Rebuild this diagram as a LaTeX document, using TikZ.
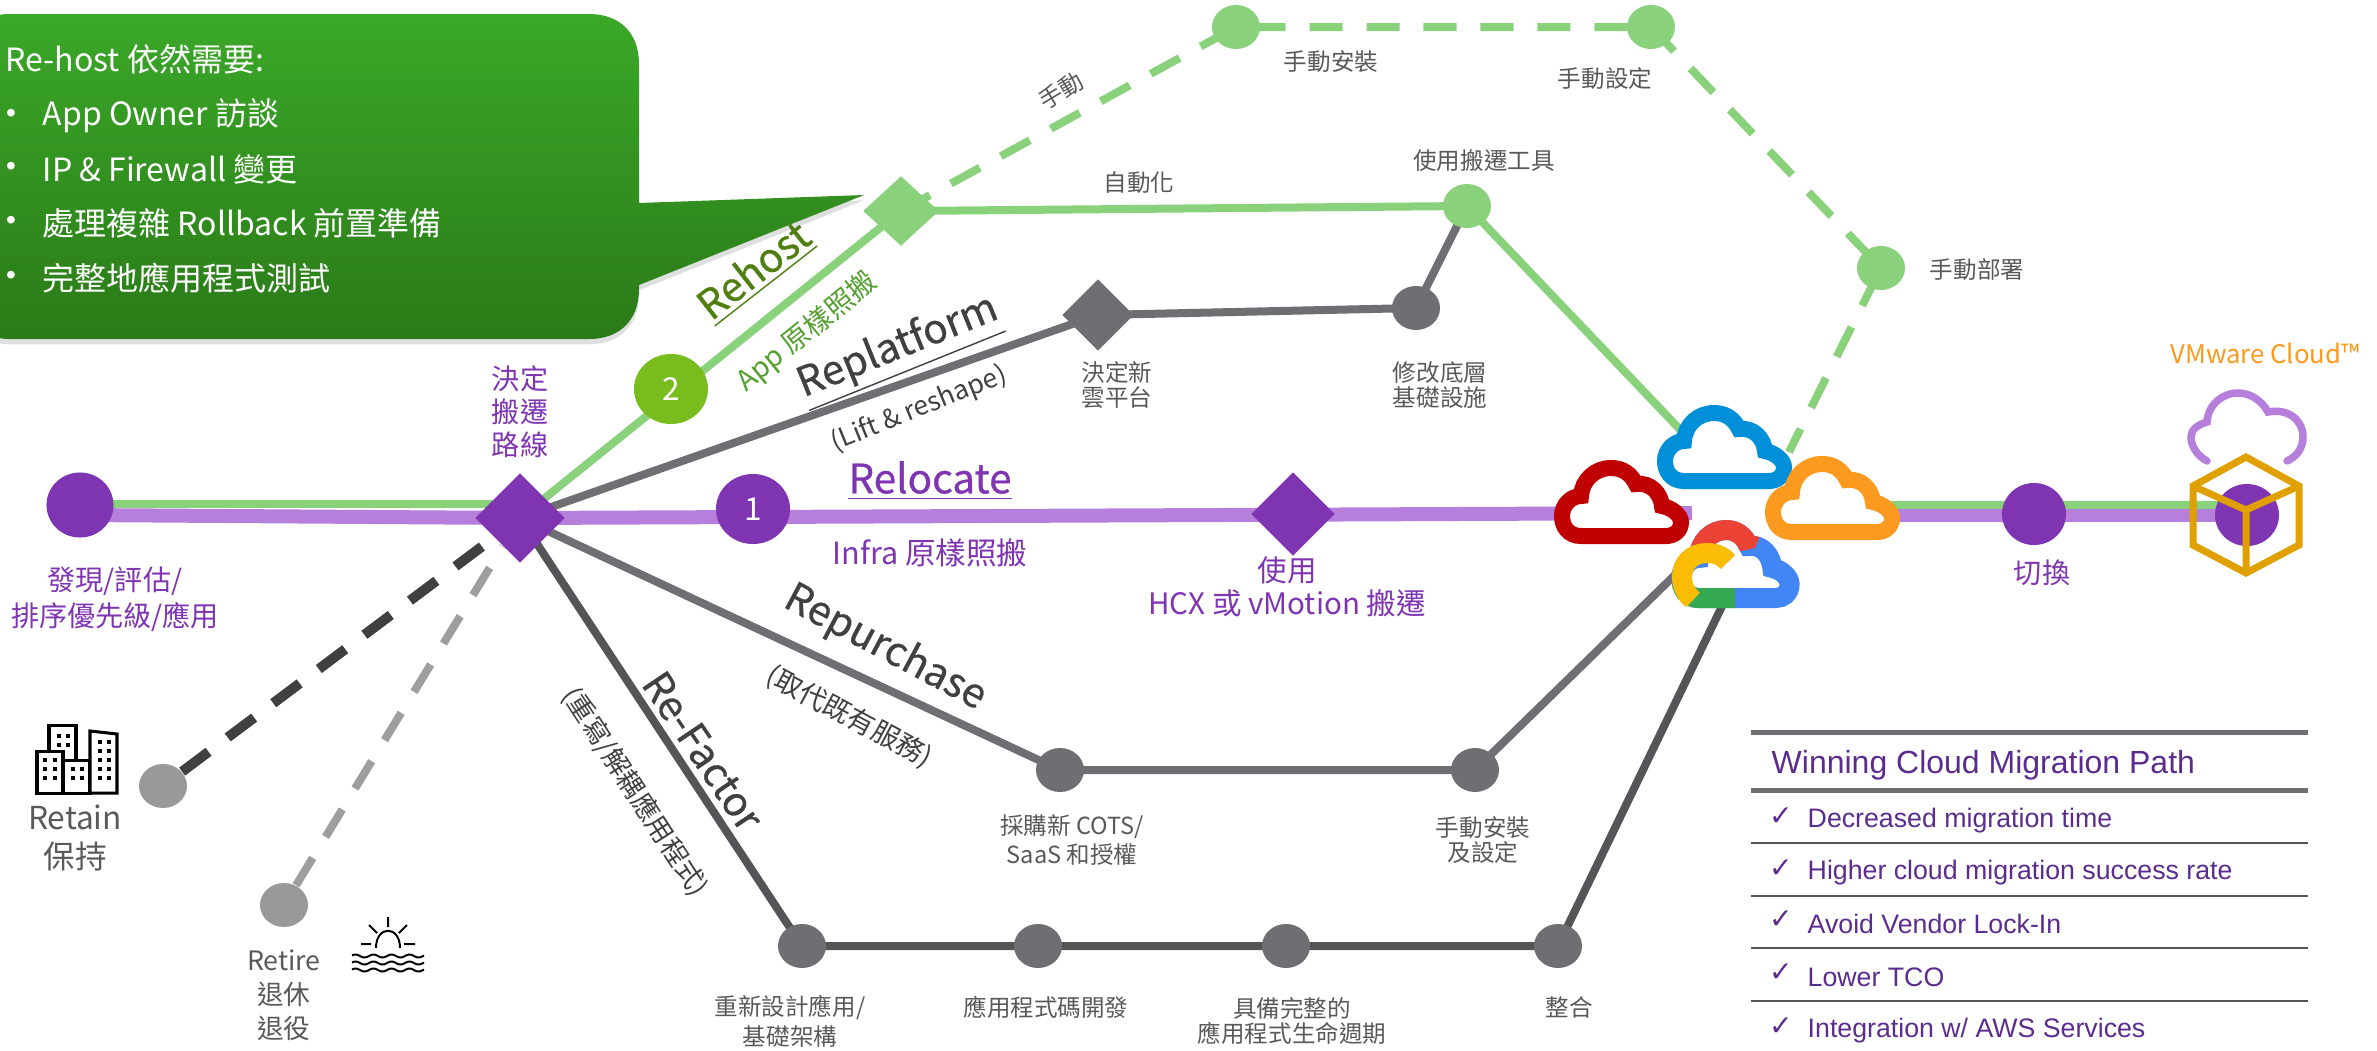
\documentclass[tikz,border=0pt]{standalone}
\usepackage{fontspec}
\usepackage{xcolor}
\setmainfont{Noto Sans CJK TC}
\newfontfamily\headfont[FakeBold=0.7]{Noto Sans CJK TC}
\newfontfamily\panelfont{Liberation Sans}
\newfontfamily\checkfont{DejaVu Sans}
\usetikzlibrary{shapes.geometric}
\usetikzlibrary{backgrounds}
\usetikzlibrary{shadows}
\definecolor{pathpurple}{HTML}{7F35B2}
\definecolor{lightpurple}{HTML}{B57FDB}
\definecolor{lightgreen}{HTML}{8AD17C}
\definecolor{limegreen}{HTML}{78BC1E}
\definecolor{rehostgreen}{HTML}{4E7F10}
\definecolor{appgreen}{HTML}{55A030}
\definecolor{bubbletop}{HTML}{3AA828}
\definecolor{bubblebottom}{HTML}{2B7A18}
\definecolor{pathgray}{HTML}{6E6E73}
\definecolor{darkgray}{HTML}{555558}
\definecolor{textgray}{HTML}{595959}
\definecolor{headgray}{HTML}{404040}
\definecolor{panelpurple}{HTML}{5B2C8E}
\definecolor{hexgold}{HTML}{E0A000}
\definecolor{cloudred}{HTML}{C00000}
\definecolor{cloudblue}{HTML}{0090DA}
\definecolor{cloudorange}{HTML}{FB9A1E}
\definecolor{googleblue}{HTML}{4285F4}
\definecolor{googlered}{HTML}{EA4335}
\definecolor{googlegreen}{HTML}{34A853}
\definecolor{googleyellow}{HTML}{FBBC05}
\newcommand{\fsz}[1]{\fontsize{#1}{#1}\selectfont}
\newcommand{\cloudpath}{(-40,0) .. controls (-53,0) and (-59,-10) .. (-59,-20)
   .. controls (-59,-31) and (-50,-40) .. (-40,-40)
   .. controls (-39,-56) and (-26,-68) .. (-10,-68)
   .. controls (2,-68) and (10,-62) .. (15,-52)
   .. controls (30,-54) and (40,-42) .. (41,-30)
   .. controls (52,-28) and (60,-20) .. (60,-14)
   .. controls (60,-5) and (53,0) .. (45,0) -- cycle}
\newcommand{\cloudicon}[3]{\draw [shift={(#1,#2)}, #3, line width=1.6mm, fill=white] \cloudpath;}
\tikzset{
   dotnode/.style={ellipse, inner sep=0, minimum width=4.8mm, minimum height=4.4mm},
   bignode/.style={ellipse, inner sep=0, text=white, font=\fsz{9}, minimum width=7.4mm, minimum height=7mm},
   decnode/.style={diamond, inner sep=0, aspect=1},
   small/.style={text=textgray, font=\fsz{6.7}, align=center, inner sep=0},
   rotsmall/.style={text=headgray, font=\fsz{7.5}, inner sep=0},
   heading/.style={text=headgray, font=\headfont\fsz{11.5}, inner sep=0},
   purpletext/.style={text=pathpurple, font=\fsz{8}, align=center, inner sep=0},
   bubbletext/.style={text=white, font=\fsz{9.1}, anchor=west, inner sep=0},
   bullettext/.style={text=white, font=\panelfont\fsz{8}, inner sep=0},
   paneltext/.style={text=panelpurple, font=\panelfont\fsz{7.6}, anchor=west, inner sep=0},
   checktext/.style={text=panelpurple, font=\checkfont\fsz{8}, inner sep=0},
   greenline/.style={lightgreen, line width=.8mm},
   greendash/.style={greenline, dash pattern=on 9.4pt off 6.8pt},
   grayline/.style={pathgray, line width=.8mm},
   purpleline/.style={lightpurple, line width=1.4mm}
}
\begin{document}
\begin{tikzpicture}[x=0.01cm,y=-0.01cm]
\useasboundingbox (0,0) rectangle (2377,1051);

%% callout
\path [drop shadow={shadow xshift=0pt,shadow yshift=-1.5pt,opacity=.25}, top color=bubbletop, bottom color=bubblebottom]
   (10,14) -- (589,14) .. controls (620,14) and (639,33) .. (639,64) -- (639,203) -- (864,195) -- (639,285) -- (639,289)
   .. controls (639,320) and (620,339) .. (589,339) -- (10,339) .. controls (-21,339) and (-40,320) .. (-40,289) -- (-40,64) .. controls (-40,33) and (-21,14) .. (10,14) -- cycle;
\node [bubbletext] (bubble0) at (5,59) {Re-host 依然需要:};
\node [bullettext] (bullet1) at (11,116) {•};
\node [bubbletext] (bubble1) at (42,116) {App Owner 訪談};
\node [bullettext] (bullet2) at (11,169) {•};
\node [bubbletext] (bubble2) at (42,169) {IP \& Firewall 變更};
\node [bullettext] (bullet3) at (11,223) {•};
\node [bubbletext] (bubble3) at (42,223) {處理複雜 Rollback 前置準備};
\node [bullettext] (bullet4) at (11,278) {•};
\node [bubbletext] (bubble4) at (42,278) {完整地應用程式測試};

%% main path nodes
\node [bignode, fill=pathpurple, minimum width=6.7mm, minimum height=6.5mm] (discover) at (80,505) {};
\node [decnode, fill=pathpurple, minimum width=9mm, minimum height=9mm] (decide) at (520,518) {};
\node [bignode, fill=pathpurple] (one) at (753,509) {1};
\node [decnode, fill=pathpurple, minimum width=8.4mm, minimum height=8.4mm] (vmotion) at (1293,514) {};
\node [bignode, fill=pathpurple, minimum width=6.4mm, minimum height=6.2mm] (cutover) at (2034,514) {};
\node [bignode, fill=pathpurple, minimum width=6.4mm, minimum height=6.2mm] (landing) at (2247,515) {};
\coordinate (purpleend) at (1692,513);
\coordinate (purplego) at (1870,515);
\coordinate (greenA) at (80,504);
\coordinate (greenB) at (500,504);
\coordinate (greenC) at (1870,505);
\coordinate (greenD) at (2225,505);
\coordinate (purpleA) at (80,515);

%% rehost
\node [bignode, fill=limegreen] (two) at (671,389) {2};
\node [decnode, fill=lightgreen, minimum width=7.6mm, minimum height=7mm] (rehost) at (901,211) {};
\node [dotnode, fill=lightgreen] (toolsdot) at (1467,206) {};
\node [dotnode, fill=lightgreen] (installdot) at (1236,27) {};
\node [dotnode, fill=lightgreen] (setupdot) at (1651,27) {};
\node [dotnode, fill=lightgreen] (deploydot) at (1881,268) {};
\coordinate (bluein) at (1690,440);
\coordinate (dashin) at (1789,452);

%% replatform
\node [decnode, fill=pathgray, minimum width=7.2mm, minimum height=7.2mm] (replat) at (1098,315) {};
\node [dotnode, fill=pathgray] (basedot) at (1416,308) {};

%% repurchase
\node [dotnode, fill=pathgray] (cotsdot) at (1060,770) {};
\node [dotnode, fill=pathgray] (confdot) at (1475,770) {};
\coordinate (googlein) at (1680,570);

%% refactor
\node [dotnode, fill=pathgray] (redesign) at (802,946) {};
\node [dotnode, fill=pathgray] (coding) at (1038,946) {};
\node [dotnode, fill=pathgray] (cycle) at (1286,946) {};
\node [dotnode, fill=pathgray] (merge) at (1558,946) {};
\coordinate (googlein2) at (1725,600);

%% retain, retire
\node [dotnode, fill=black!40] (retain) at (163,786) {};
\node [dotnode, fill=black!40] (retire) at (284,905) {};

\begin{scope}[on background layer]
\draw [purpleline] (purpleA) -- (decide.center) -- (purpleend);
\draw [purpleline] (purplego) -- (landing.center);
\draw [greenline] (greenA) -- (greenB);
\draw [greenline] (greenC) -- (greenD);
\draw [greenline] (decide.center) -- (rehost.center) -- (toolsdot.center) -- (bluein);
\draw [greendash] (rehost.center) -- (installdot.center) -- (setupdot.center) -- (deploydot.center) -- (dashin);
\draw [grayline] (decide.center) -- (replat.center) -- (basedot.center) -- (toolsdot.center);
\draw [grayline] (decide.center) -- (cotsdot.center) -- (confdot.center) -- (googlein);
\draw [darkgray, line width=.8mm] (decide.center) -- (redesign.center) -- (coding.center) -- (cycle.center) -- (merge.center) -- (googlein2);
\draw [black!75, line width=1mm, dash pattern=on 9.4pt off 6.8pt] (retain) -- (decide);
\draw [black!38, line width=.8mm, dash pattern=on 9.1pt off 7pt] (retire) -- (decide);
\end{scope}

%% clouds
\cloudicon{1621}{536}{cloudred}
\cloudicon{1724}{481}{cloudblue}
\cloudicon{1832}{532}{cloudorange}
\begin{scope}[shift={(1735,598)},xscale=.91]
   \draw [line width=2mm, googleblue, fill=white] \cloudpath;
   \begin{scope}
      \clip (-80,-90) -- (40,-90) -- (22,-50) -- (-80,-30) -- cycle;
      \draw [line width=2mm, googlered] \cloudpath;
   \end{scope}
   \begin{scope}
      \clip (-70,-12) rectangle (0,20);
      \draw [line width=2mm, googlegreen] \cloudpath;
   \end{scope}
\end{scope}
\draw [line width=2mm, googleyellow] (1728,562) .. controls (1722,555) and (1714,553) .. (1707,553) .. controls (1692,553) and (1682,563) .. (1682,577) .. controls (1682,586) and (1686,594) .. (1693,600);

%% vmware cloud and box
\draw [lightpurple, line width=.75mm, line cap=round] (2207,461) .. controls (2196,455) and (2191,445) .. (2191,437) .. controls (2191,430) and (2197,425) .. (2207,422) .. controls (2208,405) and (2222,393) .. (2238,393) .. controls (2251,393) and (2262,401) .. (2268,412) .. controls (2288,408) and (2303,420) .. (2303,437) .. controls (2303,447) and (2298,456) .. (2287,461);
\draw [hexgold, line width=.7mm] (2246,457) -- (2299,486) -- (2299,545) -- (2246,573) -- (2193,545) -- (2193,486) -- cycle;
\draw [hexgold, line width=.7mm] (2193,486) -- (2246,510) -- (2299,486) (2246,510) -- (2246,573);

%% labels on the paths
\node [purpletext] (decidetext) at (520,412) {決定\\[1.4pt]搬遷\\[1.4pt]路線};
\node [purpletext] (discovertext) at (115,599) {發現/評估/\\[1.1pt]排序優先級/應用};
\node [heading, text=pathpurple] (relocate) at (930,481) {\underline{Relocate}};
\node [purpletext, font=\fsz{8.7}] (infra) at (930,553) {Infra 原樣照搬};
\node [purpletext, font=\fsz{8.4}] (hcx) at (1287,587) {使用\\[1pt]HCX 或 vMotion 搬遷};
\node [purpletext] (cuttext) at (2042,573) {切換};
\node [purpletext, text=cloudorange, font=\fsz{7.3}] (vmware) at (2265,353) {VMware Cloud™};
\node [heading, text=rehostgreen, rotate=38] (rehosttext) at (755,272) {\underline{Rehost}};
\node [rotsmall, text=appgreen, rotate=39, font=\fsz{8}] (apptext) at (807,332) {App 原樣照搬};
\node [heading, rotate=22] (replattext) at (899,350) {\underline{Replatform}};
\node [rotsmall, rotate=22] (lifttext) at (919,409) {(Lift \& reshape)};
\node [heading, rotate=-28] (repurtext) at (885,648) {Repurchase};
\node [rotsmall, rotate=-28, font=\fsz{7.8}] (replacetext) at (849,717) {(取代既有服務)};
\node [heading, rotate=-56] (refactext) at (703,751) {Re-Factor};
\node [rotsmall, rotate=-57, font=\fsz{7.6}] (rewritetext) at (635,792) {(重寫/解耦應用程式)};
\node [small, rotate=31] (manualtext) at (1061,91) {手動};
\node [small] (autotext) at (1139,183) {自動化};
\node [small] (toolstext) at (1484,161) {使用搬遷工具};
\node [small] (installtext) at (1331,62) {手動安裝};
\node [small] (setuptext) at (1605,79) {手動設定};
\node [small] (deploytext) at (1977,270) {手動部署};
\node [small] (newcloud) at (1117,385) {決定新\\[.6pt]雲平台};
\node [small] (basetext) at (1440,385) {修改底層\\[.6pt]基礎設施};
\node [small] (cotstext) at (1072,840) {採購新 COTS/\\[.6pt]SaaS 和授權};
\node [small] (conftext) at (1483,840) {手動安裝\\[.6pt]及設定};
\node [small] (redesigntext) at (790,1021) {重新設計應用/\\[.6pt]基礎架構};
\node [small] (codingtext) at (1046,1007) {應用程式碼開發};
\node [small] (cycletext) at (1292,1021) {具備完整的\\[.6pt]應用程式生命週期};
\node [small] (mergetext) at (1569,1007) {整合};
\node [small, font=\fsz{9}] (retaintext) at (75,838) {Retain\\[2pt]保持};
\node [small, font=\fsz{7.6}] (retiretext) at (284,995) {Retire\\[2pt]退休\\[2pt]退役};

%% building
\draw [black, line width=.3mm, fill=white] (49,760) -- (49,725) -- (76,725) -- (76,760);
\draw [black, line width=.3mm, fill=white] (37,793) rectangle (63,751);
\draw [black, line width=.3mm, fill=white] (63,793) rectangle (90,760);
\draw [black, line width=.3mm, fill=white] (90,793) -- (90,731) -- (117,734) -- (117,793) -- cycle;
\foreach \x in {57,66} \foreach \y in {734,743} \fill [black] (\x,\y) rectangle +(4,4);
\foreach \x in {43,53} \foreach \y in {758,767,776} \fill [black] (\x,\y) rectangle +(4,4);
\foreach \x in {71,80} \foreach \y in {767,776} \fill [black] (\x,\y) rectangle +(4,4);
\foreach \x in {98,107} \foreach \y in {740,749,758,767,776} \fill [black] (\x,\y) rectangle +(4,4);

%% sun
\draw [black, line width=.2mm] (376,948) .. controls (376,925) and (400,925) .. (400,948);
\draw [black, line width=.2mm] (388,917) -- (388,927) (369,925) -- (377,933) (407,925) -- (399,933) (361,944) -- (371,944) (404,944) -- (415,944);
\foreach \y in {956,963,970}
   \draw [black, line width=.2mm] plot [domain=352:424, samples=60] (\x,{\y+1.5*sin(20*\x)});

%% panel
\draw [pathgray, line width=.5mm] (1751,732) -- (2308,732);
\draw [pathgray, line width=.5mm] (1751,790) -- (2308,790);
\foreach \y in {843,896,948,1001} \draw [darkgray, line width=.12mm] (1751,\y) -- (2308,\y);
\node [paneltext, font=\panelfont\fsz{9.1}] (paneltitle) at (1771,765) {Winning Cloud Migration Path};
\node [checktext] (check1) at (1781,817) {✓};
\node [paneltext] (item1) at (1807,821) {Decreased migration time};
\node [checktext] (check2) at (1781,869) {✓};
\node [paneltext] (item2) at (1807,873) {Higher cloud migration success rate};
\node [checktext] (check3) at (1781,920) {✓};
\node [paneltext] (item3) at (1807,924) {Avoid Vendor Lock-In};
\node [checktext] (check4) at (1781,973) {✓};
\node [paneltext] (item4) at (1807,977) {Lower TCO};
\node [checktext] (check5) at (1781,1027) {✓};
\node [paneltext] (item5) at (1807,1031) {Integration w/ AWS Services};
\end{tikzpicture}
\end{document}
